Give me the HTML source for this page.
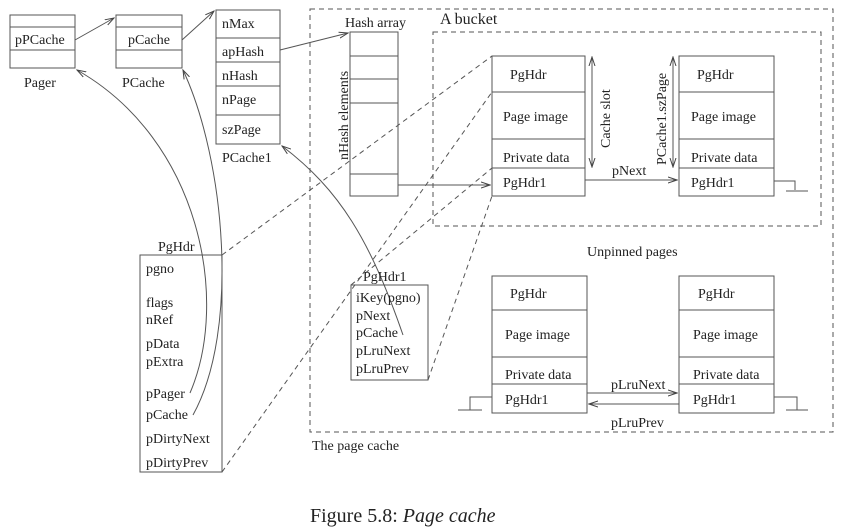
<!DOCTYPE html>
<html><head><style>
html,body{margin:0;padding:0;background:#fff;}
svg{display:block;}
text{font-family:"Liberation Serif",serif;font-size:14px;fill:#222;}
</style></head><body>
<svg width="845" height="532" viewBox="0 0 845 532" xmlns="http://www.w3.org/2000/svg">
<defs>
<marker id="a" markerWidth="10" markerHeight="8" refX="9" refY="4" orient="auto-start-reverse" markerUnits="userSpaceOnUse">
<path d="M0,1 L9,4 L0,7" fill="none" stroke="#444" stroke-width="1"/></marker>
</defs>
<g fill="none" stroke="#555" stroke-width="1">
<rect x="10" y="15" width="65" height="53"/><line x1="10" y1="27" x2="75" y2="27"/><line x1="10" y1="50" x2="75" y2="50"/>
<rect x="116" y="15" width="66" height="53"/><line x1="116" y1="27" x2="182" y2="27"/><line x1="116" y1="50" x2="182" y2="50"/>
<rect x="216" y="10" width="64" height="134"/>
<line x1="216" y1="38" x2="280" y2="38"/><line x1="216" y1="62" x2="280" y2="62"/><line x1="216" y1="86" x2="280" y2="86"/><line x1="216" y1="115" x2="280" y2="115"/>
<rect x="350" y="32" width="48" height="164"/>
<line x1="350" y1="56" x2="398" y2="56"/><line x1="350" y1="79" x2="398" y2="79"/><line x1="350" y1="103" x2="398" y2="103"/><line x1="350" y1="174" x2="398" y2="174"/>
<rect x="310" y="9" width="523" height="423" stroke-dasharray="5,4"/>
<rect x="433" y="32" width="388" height="194" stroke-dasharray="5,4"/>
<rect x="492" y="56" width="93" height="140"/><line x1="492" y1="92" x2="585" y2="92"/><line x1="492" y1="139" x2="585" y2="139"/><line x1="492" y1="168" x2="585" y2="168"/>
<rect x="679" y="56" width="95" height="140"/><line x1="679" y1="92" x2="774" y2="92"/><line x1="679" y1="139" x2="774" y2="139"/><line x1="679" y1="168" x2="774" y2="168"/>
<rect x="492" y="276" width="95" height="137"/><line x1="492" y1="310" x2="587" y2="310"/><line x1="492" y1="357" x2="587" y2="357"/><line x1="492" y1="384" x2="587" y2="384"/>
<rect x="679" y="276" width="95" height="137"/><line x1="679" y1="310" x2="774" y2="310"/><line x1="679" y1="357" x2="774" y2="357"/><line x1="679" y1="384" x2="774" y2="384"/>
<rect x="140" y="255" width="82" height="217"/>
<rect x="351" y="285" width="77" height="95"/>
<line x1="75" y1="40" x2="114" y2="18" marker-end="url(#a)"/>
<line x1="182" y1="40" x2="214" y2="11" marker-end="url(#a)"/>
<line x1="280" y1="50" x2="348" y2="33" marker-end="url(#a)"/>
<line x1="398" y1="185" x2="490" y2="185" marker-end="url(#a)"/>
<line x1="585" y1="180" x2="677" y2="180" marker-end="url(#a)"/>
<line x1="592" y1="57" x2="592" y2="167" marker-start="url(#a)" marker-end="url(#a)"/>
<line x1="673" y1="57" x2="673" y2="167" marker-start="url(#a)" marker-end="url(#a)"/>
<line x1="587" y1="393" x2="677" y2="393" marker-end="url(#a)"/>
<line x1="679" y1="404" x2="589" y2="404" marker-end="url(#a)"/>
<polyline points="774,181 795,181 795,190"/><line x1="786" y1="191" x2="808" y2="191"/>
<polyline points="492,397 470,397 470,410"/><line x1="458" y1="410" x2="482" y2="410"/>
<polyline points="774,397 797,397 797,410"/><line x1="786" y1="410" x2="808" y2="410"/>
<path d="M190,393 C230,300 200,140 77,70" marker-end="url(#a)"/>
<path d="M193,415 C240,330 225,160 183,70" marker-end="url(#a)"/>
<path d="M403,335 C370,240 340,190 282,146" marker-end="url(#a)"/>
<g stroke-dasharray="5,4">
<line x1="222" y1="255" x2="492" y2="56"/>
<line x1="222" y1="472" x2="492" y2="92"/>
<line x1="351" y1="285" x2="492" y2="168"/>
<line x1="428" y1="380" x2="492" y2="196"/>
</g>
</g>
<text x="15" y="44">pPCache</text>
<text x="24" y="87">Pager</text>
<text x="128" y="44">pCache</text>
<text x="122" y="87">PCache</text>
<text x="222" y="28">nMax</text>
<text x="222" y="56">apHash</text>
<text x="222" y="80">nHash</text>
<text x="222" y="104">nPage</text>
<text x="222" y="134">szPage</text>
<text x="222" y="162">PCache1</text>
<text x="345" y="27">Hash array</text>
<text transform="translate(348,160) rotate(-90)">nHash elements</text>
<text x="440" y="24" style="font-size:16px">A bucket</text>
<text x="510" y="79">PgHdr</text>
<text x="503" y="121">Page image</text>
<text x="503" y="162">Private data</text>
<text x="503" y="187">PgHdr1</text>
<text transform="translate(610,148) rotate(-90)">Cache slot</text>
<text x="697" y="79">PgHdr</text>
<text x="691" y="121">Page image</text>
<text x="691" y="162">Private data</text>
<text x="691" y="187">PgHdr1</text>
<text transform="translate(666,165) rotate(-90)">PCache1.szPage</text>
<text x="612" y="175">pNext</text>
<text x="587" y="256">Unpinned pages</text>
<text x="510" y="298">PgHdr</text>
<text x="505" y="339">Page image</text>
<text x="505" y="379">Private data</text>
<text x="505" y="404">PgHdr1</text>
<text x="698" y="298">PgHdr</text>
<text x="693" y="339">Page image</text>
<text x="693" y="379">Private data</text>
<text x="693" y="404">PgHdr1</text>
<text x="611" y="389">pLruNext</text>
<text x="611" y="427">pLruPrev</text>
<text x="312" y="450">The page cache</text>
<text x="158" y="251">PgHdr</text>
<text x="146" y="273">pgno</text>
<text x="146" y="307">flags</text>
<text x="146" y="324">nRef</text>
<text x="146" y="348">pData</text>
<text x="146" y="366">pExtra</text>
<text x="146" y="398">pPager</text>
<text x="146" y="419">pCache</text>
<text x="146" y="443">pDirtyNext</text>
<text x="146" y="467">pDirtyPrev</text>
<text x="363" y="281">PgHdr1</text>
<text x="356" y="302">iKey(pgno)</text>
<text x="356" y="320">pNext</text>
<text x="356" y="337">pCache</text>
<text x="356" y="355">pLruNext</text>
<text x="356" y="373">pLruPrev</text>
<text x="310" y="522" style="font-size:20px">Figure 5.8: <tspan font-style="italic">Page cache</tspan></text>
</svg>
</body></html>
